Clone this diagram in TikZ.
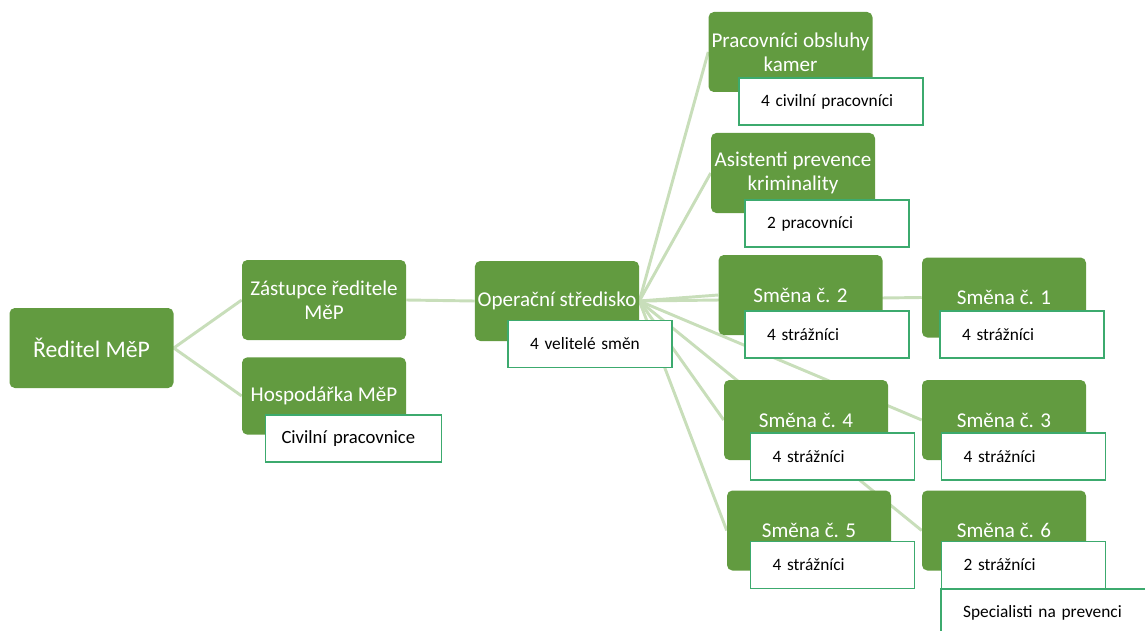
\documentclass[tikz,border=0pt]{standalone}
\usepackage{fontspec}
\setmainfont{Carlito}
\usetikzlibrary{positioning}
\pgfdeclarelayer{background}
\pgfsetlayers{background,main}
\definecolor{unitgreen}{RGB}{98,155,64}
\definecolor{linkgreen}{RGB}{200,222,186}
\definecolor{staffedge}{RGB}{60,170,110}

\begin{document}
\begin{tikzpicture}[x=0.75pt,y=-0.75pt,
  unit/.style={fill=unitgreen, rounded corners=4pt, text=white, align=center,
    font=\fontsize{15.8}{18}\selectfont, minimum width=123pt, minimum height=60pt, inner sep=2pt},
  staff/.style={draw=staffedge, fill=white, line width=1.1pt, align=left,
    font=\fontsize{13}{15}\selectfont, minimum height=35pt, inner xsep=16.5pt, text width=90pt},
  link/.style={draw=linkgreen, line width=2.2pt}]
\path[use as bounding box, clip] (0,0) rectangle (1145,631);
%
\node[unit, font=\fontsize{17.8}{20}\selectfont] (reditel) at (91.5,348) {Ředitel MěP};
\node[unit] (zastupce) at (324,300) {Zástupce ředitele\\MěP};
\node[unit, minimum height=58pt] (hospodarka) at (324,396) {Hospodářka MěP};
\node[staff, font=\fontsize{14}{16}\selectfont, inner xsep=12pt, text width=108pt] (civilni) at (353.5,438.5) {Civilní pracovnice};
%
\node[unit] (operacni) at (557,301) {Operační středisko};
\node[staff] (velitele) at (590,344) {4 velitelé směn};
%
\node[unit] (kamery) at (790.5,52) {Pracovníci obsluhy\\kamer};
\node[staff, text width=105pt] (kamerystaff) at (831,101.5) {4 civilní pracovníci};
\node[unit] (asistenti) at (793,173) {Asistenti prevence\\kriminality};
\node[staff] (asistentistaff) at (827,223.5) {2 pracovníci};
%
\node[unit] (smena2) at (800.5,295) {Směna č. 2};
\node[staff] (smena2staff) at (827,334.5) {4 strážníci};
\node[unit] (smena1) at (1004,297.5) {Směna č. 1};
\node[staff] (smena1staff) at (1022,334.5) {4 strážníci};
\node[unit] (smena4) at (806,420) {Směna č. 4};
\node[staff] (smena4staff) at (832.5,456.5) {4 strážníci};
\node[unit] (smena3) at (1004,420) {Směna č. 3};
\node[staff] (smena3staff) at (1023.5,456.5) {4 strážníci};
\node[unit] (smena5) at (809,530.5) {Směna č. 5};
\node[staff] (smena5staff) at (832.5,565) {4 strážníci};
\node[unit] (smena6) at (1004,530.5) {Směna č. 6};
\node[staff] (smena6staff) at (1023.5,565) {2 strážníci};
\node[staff, text width=131pt] (specialisti) at (1050.5,612.5) {Specialisti na prevenci};
%
\begin{pgfonlayer}{background}
\draw[link] (reditel.east) -- (zastupce.west);
\draw[link] (reditel.east) -- (hospodarka.west);
\draw[link] (zastupce.east) -- (operacni.west);
\foreach \n in {kamery,asistenti,smena1,smena2,smena3,smena4,smena5,smena6}
  \draw[link] (operacni.east) -- (\n.west);
\end{pgfonlayer}
\end{tikzpicture}
\end{document}
